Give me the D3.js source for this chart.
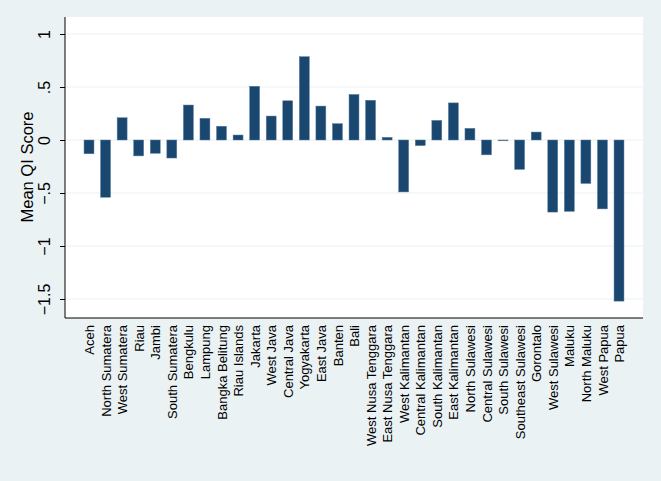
<!DOCTYPE html>
<html>
<head>
<meta charset="utf-8">
<script src="https://cdn.jsdelivr.net/npm/d3@7"></script>
<style>
html,body{margin:0;padding:0;background:#eaf2f3;}
svg{display:block;}
</style>
</head>
<body>
<svg id="chart" width="661" height="481"></svg>
<script>
const provinces = ["Aceh","North Sumatera","West Sumatera","Riau","Jambi","South Sumatera","Bengkulu","Lampung","Bangka Belitung","Riau Islands","Jakarta","West Java","Central Java","Yogyakarta","East Java","Banten","Bali","West Nusa Tenggara","East Nusa Tenggara","West Kalimantan","Central Kalimantan","South Kalimantan","East Kalimantan","North Sulawesi","Central Sulawesi","South Sulawesi","Southeast Sulawesi","Gorontalo","West Sulawesi","Maluku","North Maluku","West Papua","Papua"];
const meanQI = [-0.13,-0.54,0.21,-0.15,-0.125,-0.17,0.33,0.205,0.13,0.047,0.507,0.226,0.37,0.786,0.32,0.154,0.43,0.375,0.025,-0.49,-0.053,0.185,0.35,0.11,-0.14,-0.005,-0.277,0.075,-0.68,-0.673,-0.41,-0.65,-1.52];
const yTicks = [1,0.5,0,-0.5,-1,-1.5];
const yTickLabels = ["1",".5","0","\u2212.5","\u22121","\u22121.5"];

const svg = d3.select("#chart");
const W = 661, H = 481;
svg.append("rect").attr("width",W).attr("height",H).attr("fill","#eaf2f3");

const plot = {left:65, right:643, top:17, bottom:318};
svg.append("rect").attr("x",plot.left).attr("y",plot.top)
  .attr("width",plot.right-plot.left).attr("height",plot.bottom-plot.top).attr("fill","#ffffff");

const y = d3.scaleLinear().domain([-1.5,1]).range([299,34]);
const x = d3.scalePoint().domain(provinces).range([89,619]);
const bw = x.step()*0.6;

// gridlines
svg.append("g").selectAll("line").data(yTicks).join("line")
  .attr("x1",plot.left).attr("x2",plot.right)
  .attr("y1",d=>y(d)).attr("y2",d=>y(d))
  .attr("stroke","#eaf2f3").attr("stroke-width",1.2);

// bars
svg.append("g").selectAll("rect").data(meanQI).join("rect")
  .attr("x",(d,i)=>x(provinces[i])-bw/2)
  .attr("width",bw)
  .attr("y",d=>y(Math.max(0,d)))
  .attr("height",d=>Math.max(0.8,Math.abs(y(d)-y(0))))
  .attr("fill","#1a476f")
  .attr("stroke","#5b7f9f").attr("stroke-width",0.5);

// y axis
const yAxis = d3.axisLeft(y).tickValues(yTicks).tickSize(5).tickPadding(4)
  .tickFormat((d,i)=>yTickLabels[i]);
const gy = svg.append("g").attr("transform",`translate(${plot.left},0)`).call(yAxis);
gy.select(".domain").attr("d",`M0,${plot.top}V${plot.bottom}`).attr("stroke","#000").attr("stroke-width",1);
gy.selectAll(".tick line").attr("stroke","#000");
gy.selectAll(".tick text")
  .attr("font-family","Liberation Sans, Arial, sans-serif").attr("font-size",16).attr("fill","#000")
  .attr("x",0).attr("dy",0).attr("text-anchor","middle")
  .attr("transform",d=>`translate(-15,0) rotate(-90)`)
  .attr("y",0);

// x axis
const xAxis = d3.axisBottom(x).tickSize(0).tickPadding(0);
const gx = svg.append("g").attr("transform",`translate(0,${plot.bottom})`).call(xAxis);
gx.select(".domain").attr("d",`M${plot.left},0H${plot.right}`).attr("stroke","#000").attr("stroke-width",1);
gx.selectAll(".tick text")
  .attr("font-family","Liberation Sans, Arial, sans-serif").attr("font-size",13).attr("fill","#000")
  .attr("text-anchor","end").attr("y",0).attr("dy","0.35em")
  .attr("transform","translate(0,7) rotate(-90)");

// y title
svg.append("text").attr("transform","translate(27,167) rotate(-90)")
  .attr("text-anchor","middle").attr("dy","0.35em")
  .attr("font-family","Liberation Sans, Arial, sans-serif").attr("font-size",16.5).attr("fill","#000")
  .text("Mean QI Score");
</script>
</body>
</html>
